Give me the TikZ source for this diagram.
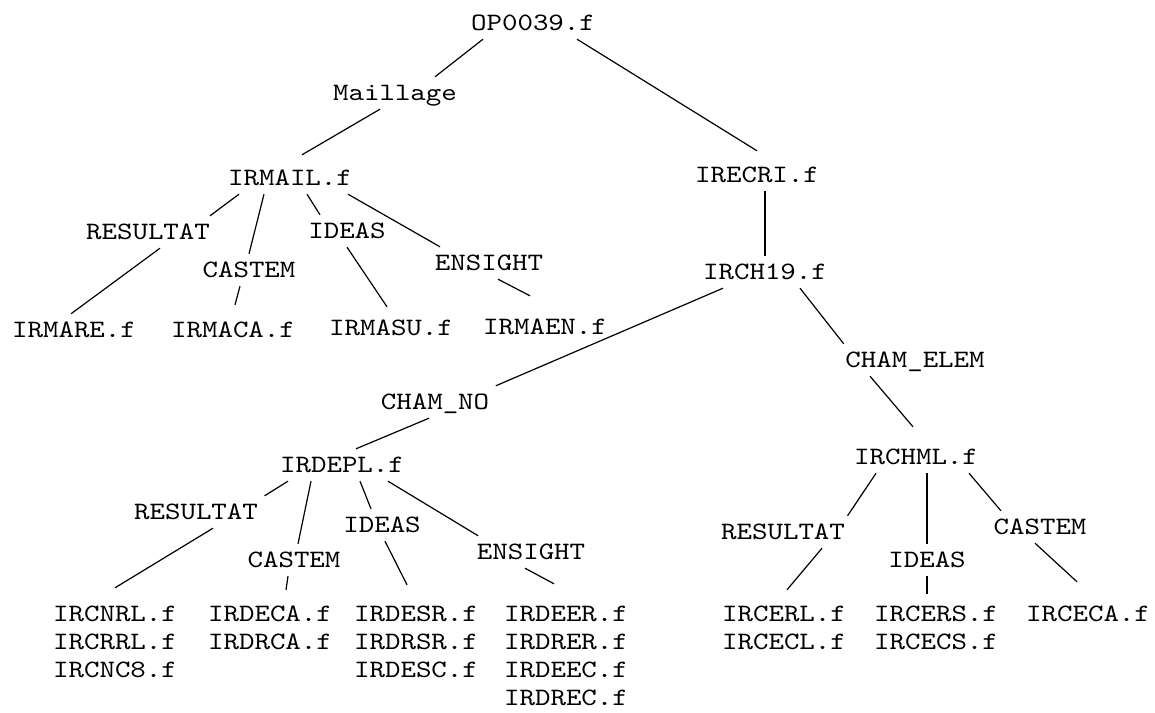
\documentclass[tikz,border=0pt]{standalone}
\usepackage{amsmath}
\usepackage{fontspec}
\usepackage{tikz}

\newfontfamily\courfont{lmmono10-regular.otf}[FakeStretch=1.18]

\tikzset{
  file/.style={font=\courfont\fontsize{12.5}{14}\selectfont, inner xsep=3pt,
    inner ysep=4pt, text height=7.6pt, text depth=0pt},
  fmt/.style={file}
}

\begin{document}
\begin{tikzpicture}[x=0.5pt, y=-0.5pt, line width=0.6pt]
  \useasboundingbox (0, 0) rectangle (1155, 712);
  \node (op) at (533, 23) [file] {OP0039.f};
  \node (mail) at (395, 93) [fmt] {Maillage};
  \node (irmail) at (290, 178) [file] {IRMAIL.f};
  \node (irecri) at (757, 175) [file] {IRECRI.f};
  \node (res1) at (148, 232) [fmt] {RESULTAT};
  \node (ide1) at (347, 231) [fmt] {IDEAS};
  \node (cas1) at (249, 270) [fmt] {CASTEM};
  \node (ens1) at (489, 263) [fmt] {ENSIGHT};
  \node (irch19) at (765, 272) [file] {IRCH19.f};
  \node (irmare) at (74, 330) [file] {IRMARE.f};
  \node (irmaca) at (233, 330) [file] {IRMACA.f};
  \node (irmasu) at (391, 328) [file] {IRMASU.f};
  \node (irmaen) at (545, 327) [file] {IRMAEN.f};
  \node (chel) at (915, 360) [fmt] {CHAM\_ELEM};
  \node (chno) at (435, 402) [fmt] {CHAM\_NO};
  \node (irdepl) at (342, 465) [file] {IRDEPL.f};
  \node (irchml) at (916, 457) [file] {IRCHML.f};
  \node (res2) at (196, 512) [fmt] {RESULTAT};
  \node (ide2) at (382, 525) [fmt] {IDEAS};
  \node (cas2) at (294, 560) [fmt] {CASTEM};
  \node (ens2) at (531, 552) [fmt] {ENSIGHT};
  \node (res3) at (783, 532) [fmt] {RESULTAT};
  \node (ide3) at (927, 560) [fmt] {IDEAS};
  \node (cas3) at (1040, 527) [fmt] {CASTEM};
  \node (ircnrl) at (115, 614) [file] {IRCNRL.f};
  \node (ircrrl) at (115, 642) [file] {IRCRRL.f};
  \node (ircnc8) at (115, 670) [file] {IRCNC8.f};
  \node (irdeca) at (270, 614) [file] {IRDECA.f};
  \node (irdrca) at (270, 642) [file] {IRDRCA.f};
  \node (irdesr) at (416, 614) [file] {IRDESR.f};
  \node (irdrsr) at (416, 642) [file] {IRDRSR.f};
  \node (irdesc) at (416, 670) [file] {IRDESC.f};
  \node (irdeer) at (566, 614) [file] {IRDEER.f};
  \node (irdrer) at (566, 642) [file] {IRDRER.f};
  \node (irdeec) at (566, 670) [file] {IRDEEC.f};
  \node (irdrec) at (566, 698) [file] {IRDREC.f};
  \node (ircerl) at (784, 614) [file] {IRCERL.f};
  \node (irclcl) at (784, 642) [file] {IRCECL.f};
  \node (ircers) at (936, 614) [file] {IRCERS.f};
  \node (ircecs) at (936, 642) [file] {IRCECS.f};
  \node (irceca) at (1088, 614) [file] {IRCECA.f};
  % Maillage branch
  \draw ([xshift=-25pt]op.south) -- ([xshift=20pt]mail.north);
  \draw ([xshift=-7.5pt]mail.south) -- ([xshift=6pt, yshift=3.5pt]irmail.north);
  \draw ([xshift=-25.5pt]irmail.south) -- ([xshift=31pt]res1.north);
  \draw ([xshift=-13pt]irmail.south) -- (cas1.north);
  \draw ([xshift=8.5pt]irmail.south) -- ([xshift=-13.5pt]ide1.north);
  \draw ([xshift=29pt]irmail.south) -- ([xshift=-24.5pt]ens1.north);
  \draw ([xshift=6pt]res1.south) -- ([xshift=-1.5pt]irmare.north);
  \draw ([xshift=-4.5pt]cas1.south) -- ([xshift=1pt, yshift=4.5pt]irmaca.north);
  \draw (ide1.south) -- ([xshift=-2pt, yshift=2.5pt]irmasu.north);
  \draw ([xshift=4.5pt]ens1.south) -- ([xshift=-7.5pt, yshift=7.5pt]irmaen.north);
  % IRECRI branch
  \draw ([xshift=22pt]op.south) -- ([yshift=4pt]irecri.north);
  \draw ([xshift=4pt]irecri.south) -- (irch19.north);
  \draw ([xshift=-21pt]irch19.south) -- (chno.north east);
  \draw ([xshift=17.5pt]irch19.south) -- ([xshift=2.5pt]chel.north west);
  \draw ([xshift=-3pt]chno.south) -- ([xshift=7pt]irdepl.north);
  \draw ([xshift=-22.5pt]chel.south) -- ([xshift=-1.5pt, yshift=7pt]irchml.north);
  % CHAM_NO
  \draw ([xshift=-27pt]irdepl.south) -- (res2.north east);
  \draw ([xshift=-15.5pt]irdepl.south) -- ([xshift=2pt]cas2.north);
  \draw ([xshift=9pt]irdepl.south) -- ([xshift=-5.5pt]ide2.north);
  \draw ([xshift=23pt]irdepl.south) -- ([xshift=4pt]ens2.north west);
  \draw ([xshift=8.5pt]res2.south) -- ([yshift=5pt]ircnrl.north);
  \draw ([xshift=-3pt]cas2.south) -- ([xshift=8pt, yshift=4pt]irdeca.north);
  \draw ([xshift=1.5pt]ide2.south) -- ([xshift=-4.5pt, yshift=6.5pt]irdesr.north);
  \draw ([xshift=-3pt]ens2.south) -- ([xshift=-6pt, yshift=7pt]irdeer.north);
  % CHAM_ELEM
  \draw ([xshift=-20pt]irchml.south) -- ([xshift=-2pt]res3.north east);
  \draw (ide3.north |- irchml.south) -- (ide3.north);
  \draw ([xshift=26.5pt]irchml.south) -- ([xshift=7pt]cas3.north west);
  \draw ([xshift=19.5pt]res3.south) -- ([xshift=1.5pt, yshift=4pt]ircerl.north);
  \draw (ide3.south) -- ([yshift=2pt]ide3.south |- ircers.north);
  \draw ([xshift=-2.5pt]cas3.south) -- ([xshift=-5.5pt, yshift=8pt]irceca.north);
\end{tikzpicture}
\end{document}
